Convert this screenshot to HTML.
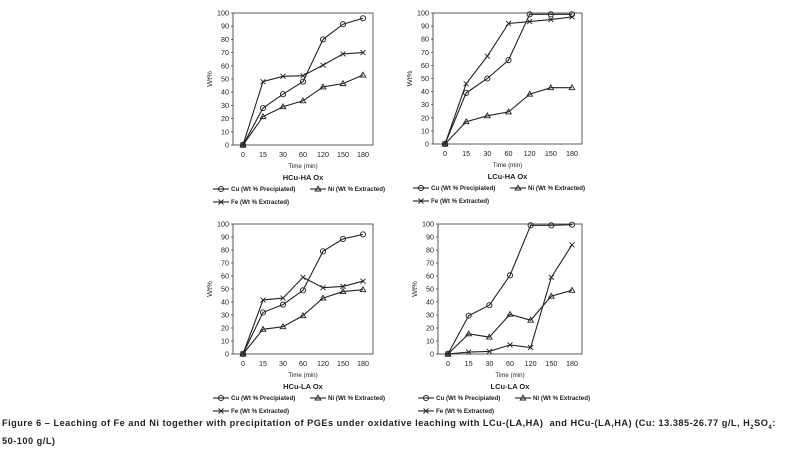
<!DOCTYPE html>
<html><head><meta charset="utf-8"><style>
body{margin:0;background:#fff;width:790px;height:458px;overflow:hidden;font-family:"Liberation Sans",sans-serif}
svg{position:absolute;left:0;top:0}
#cap{position:absolute;left:2px;top:417px;font-size:9.2px;font-weight:bold;color:#222;line-height:13px;width:786px;letter-spacing:0.5px}
</style></head><body>
<svg id="chart" width="790" height="458"></svg>
<div id="cap">Figure 6 – Leaching of Fe and Ni together with precipitation of PGEs under oxidative leaching with LCu-(LA,HA)&nbsp; and HCu-(LA,HA) (Cu: 13.385-26.77 g/L, H<sub style="font-size:6px">2</sub>SO<sub style="font-size:6px">4</sub>:<br>50-100 g/L)</div>
<script>
const categories=["0","15","30","60","120","150","180"];
const yTicks=[0,10,20,30,40,50,60,70,80,90,100];
const titles=["HCu-HA Ox","LCu-HA Ox","HCu-LA Ox","LCu-LA Ox"];
const cuTL=[0,28,38.5,48,80,91.5,96], niTL=[0,21.5,29,33.5,44,46.5,53], feTL=[0,48,52,52.5,60.5,69,70];
const cuTR=[0,39,50,64,99,99,99], niTR=[0,17,21.5,24.5,38,43,43], feTR=[0,46,67,92,93.5,95,97];
const cuBL=[0,32,38,49,79,88.5,92], niBL=[0,19,21,29.5,43,48,49.5], feBL=[0,41.5,43,59,51,52,56];
const cuBR=[0,29.5,37.5,60.5,99,99,99.5], niBR=[0,15.5,13,30.5,26,44.5,49], feBR=[0,1.5,2,7,5,59,84];
const seriesSets=[[cuTL,niTL,feTL],[cuTR,niTR,feTR],[cuBL,niBL,feBL],[cuBR,niBR,feBR]];
const panels=[{l:233,r:373,x0:243,x1:363,t:13,b:145},{l:433,r:582,x0:445,x1:572,t:13,b:144},
{l:233,r:373,x0:243,x1:363,t:224,b:354},{l:438,r:582,x0:448,x1:572,t:224,b:354}];
const svg=document.getElementById('chart');const NS="http://www.w3.org/2000/svg";
function mk(tag,a,p){const e=document.createElementNS(NS,tag);for(const k in a)e.setAttribute(k,a[k]);(p||svg).appendChild(e);return e;}
function marker(g,kind,x,y){
 if(kind===0){const c=mk('circle',{cx:x,cy:y,r:2.6,fill:'none',stroke:'#222','stroke-width':0.9},g);}
 else if(kind===1){const p=mk('polygon',{points:`${x},${y-2.8} ${x-2.8},${y+2} ${x+2.8},${y+2}`,fill:'none',stroke:'#222','stroke-width':0.9},g);}
 else{const p=mk('path',{d:`M${x-2.5},${y-2.5}L${x+2.5},${y+2.5}M${x-2.5},${y+2.5}L${x+2.5},${y-2.5}`,stroke:'#222','stroke-width':0.9},g);}
}
const names=["cu","ni","fe"];
panels.forEach((P,i)=>{
 const g=mk('g',{});
 const X=k=>P.x0+(P.x1-P.x0)*k/(categories.length-1);const Y=v=>P.b-(P.b-P.t)*v/100;
 const box=mk('rect',{x:P.l,y:P.t,width:P.r-P.l,height:P.b-P.t,fill:'none',stroke:'#333','stroke-width':0.8},g);
 yTicks.forEach(v=>{mk('line',{x1:P.l-2,x2:P.l,y1:Y(v),y2:Y(v),stroke:'#333','stroke-width':0.7},g);
  const t=mk('text',{x:P.l-4,y:Y(v)+2.5,'font-size':7.2,'text-anchor':'end',fill:'#222'},g);t.textContent=v;});
 categories.forEach((c,k)=>{const t=mk('text',{x:X(k),y:P.b+12,'font-size':7.2,'text-anchor':'middle',fill:'#222'},g);t.textContent=c;});
 const yt=mk('text',{x:0,y:0,'font-size':7.5,'text-anchor':'middle',fill:'#222',transform:`translate(${P.l-21},${(P.t+P.b)/2}) rotate(-90)`},g);yt.textContent='Wt%';
 const cx=(P.l+P.r)/2;
 const xt=mk('text',{x:cx,y:P.b+23,'font-size':6.2,'text-anchor':'middle',fill:'#222'},g);xt.textContent='Time (min)';
 const tt=mk('text',{x:cx,y:P.b+35,'font-size':7.5,'font-weight':'bold','text-anchor':'middle',fill:'#222'},g);tt.textContent=titles[i];
 seriesSets[i].forEach((s,si)=>{
  const pl=mk('polyline',{points:s.map((v,k)=>X(k)+','+Y(v)).join(' '),fill:'none',stroke:'#222','stroke-width':1.1},g);
  s.forEach((v,k)=>marker(g,si,X(k),Y(v)));
 });
 const lx=P.l-20, ly=P.b+44;
 const leg=[["Cu (Wt % Precipiated)",lx,ly,0],["Ni (Wt % Extracted)",lx+97,ly,1],["Fe (Wt % Extracted)",lx,ly+13,2]];
 leg.forEach(([txt,x,y,kind])=>{const lg=mk('g',{},g);
  mk('line',{x1:x,x2:x+16,y1:y,y2:y,stroke:'#222','stroke-width':1.1},lg);marker(lg,kind,x+8,y);
  const t=mk('text',{x:x+18,y:y+2.2,'font-size':6.2,'font-weight':'bold',fill:'#222'},lg);t.textContent=txt;});
});
</script>
</body></html>
